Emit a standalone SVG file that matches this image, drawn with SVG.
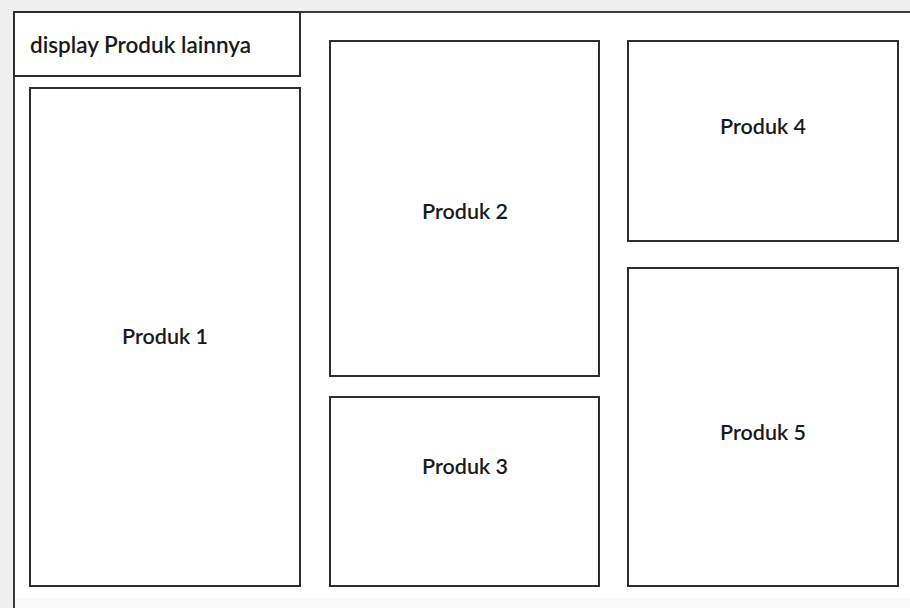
<svg xmlns="http://www.w3.org/2000/svg" width="910" height="608" viewBox="0 0 910 608">
<style>
.box{fill:#fff;stroke:#2e2e2e;stroke-width:2}
.t{font-family:Lato,"Noto Sans",sans-serif;font-size:21.5px;font-weight:600;fill:#1a1a1a;dominant-baseline:central}
.lbl{text-anchor:middle}
</style>
<rect x="0" y="0" width="910" height="608" fill="#efefef"/>
<rect x="14" y="12" width="896" height="586" fill="#fff"/>
<rect x="14" y="598" width="896" height="10" fill="#f9f9f9"/>
<line x1="14" y1="12" x2="910" y2="12" stroke="#3a3a3a" stroke-width="2"/>
<line x1="14" y1="12" x2="14" y2="608" stroke="#3a3a3a" stroke-width="2"/>
<g id="header">
<rect class="box" x="14" y="12" width="286" height="64"/>
<text class="t" x="30" y="44" style="font-size:22.5px">display Produk lainnya</text>
</g>
<g id="p1"><rect class="box" x="30" y="88" width="270" height="498"/><text class="t lbl" x="165" y="336">Produk 1</text></g>
<g id="p2"><rect class="box" x="330" y="41" width="269" height="335"/><text class="t lbl" x="465" y="211">Produk 2</text></g>
<g id="p3"><rect class="box" x="330" y="397" width="269" height="189"/><text class="t lbl" x="465" y="466">Produk 3</text></g>
<g id="p4"><rect class="box" x="628" y="41" width="270" height="200"/><text class="t lbl" x="763" y="126">Produk 4</text></g>
<g id="p5"><rect class="box" x="628" y="268" width="270" height="318"/><text class="t lbl" x="763" y="432">Produk 5</text></g>
<g id="connectors"/>
</svg>
